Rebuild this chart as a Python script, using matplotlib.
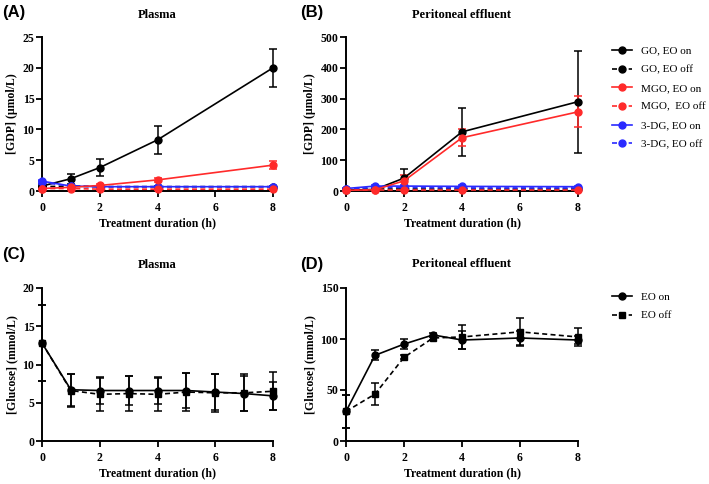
import matplotlib
matplotlib.use("Agg")
import matplotlib.pyplot as plt
from matplotlib.lines import Line2D

# ---------------- data ----------------
t_gdp = [0, 1, 2, 4, 8]
# Panel A: plasma GDP (umol/L)
a_go_on = [0.8, 2.0, 3.8, 8.3, 20.0]
a_go_on_err = [0.3, 0.8, 1.4, 2.3, 3.1]
a_go_off = [0.7, 0.8, 0.7, 0.7, 0.7]
a_go_off_err = [0.1, 0.1, 0.1, 0.1, 0.1]
a_mgo_on = [0.4, 0.6, 0.9, 1.8, 4.2]
a_mgo_on_err = [0.1, 0.2, 0.2, 0.3, 0.6]
a_mgo_off = [0.4, 0.4, 0.3, 0.3, 0.3]
a_mgo_off_err = [0.1, 0.1, 0.1, 0.1, 0.1]
a_dg_on = [1.6, 0.8, 0.7, 0.7, 0.7]
a_dg_on_err = [0.2, 0.1, 0.1, 0.1, 0.1]
a_dg_off = [1.4, 0.8, 0.7, 0.7, 0.7]
a_dg_off_err = [0.2, 0.1, 0.1, 0.1, 0.1]

# Panel B: peritoneal effluent GDP (umol/L)
b_go_on = [3, 5, 42, 192, 290]
b_go_on_err = [1, 2, 28, 77, 166]
b_go_off = [5, 5, 5, 5, 5]
b_go_off_err = [1, 1, 1, 1, 1]
b_mgo_on = [2, 4, 33, 173, 257]
b_mgo_on_err = [1, 2, 20, 27, 50]
b_mgo_off = [3, 3, 3, 3, 3]
b_mgo_off_err = [1, 1, 1, 1, 1]
b_dg_on = [8, 16, 16, 15, 14]
b_dg_on_err = [2, 3, 3, 3, 3]
b_dg_off = [6, 12, 12, 10, 10]
b_dg_off_err = [2, 2, 2, 2, 2]

gdp_labels = ["GO, EO on", "GO, EO off", "MGO, EO on", "MGO,  EO off",
              "3-DG, EO on", "3-DG, EO off"]

# Panel C: plasma glucose (mmol/L)
t_c = [0, 1, 2, 3, 4, 5, 6, 7, 8]
c_on = [12.8, 6.7, 6.6, 6.6, 6.6, 6.6, 6.4, 6.2, 5.9]
c_on_err = [5.0, 2.1, 1.8, 1.9, 1.8, 2.3, 2.3, 2.3, 1.8]
c_off = [12.8, 6.6, 6.1, 6.2, 6.1, 6.4, 6.3, 6.3, 6.5]
c_off_err = [5.0, 2.2, 2.2, 2.3, 2.2, 2.5, 2.5, 2.4, 2.5]

# Panel D: effluent glucose (mmol/L)
t_d = [0, 1, 2, 3, 4, 6, 8]
d_on = [29, 84, 95, 104, 99, 101, 99]
d_on_err = [16, 5, 5, 2, 9, 7, 4]
d_off = [29, 46, 82, 101, 102, 107, 102]
d_off_err = [16, 11, 2, 2, 12, 14, 9]

glc_labels = ["EO on", "EO off"]

# ---------------- style ----------------
W, H = 709, 484
fig = plt.figure(figsize=(W / 100, H / 100), dpi=100)
SERIF = ["Liberation Serif", "DejaVu Serif"]
SANS = ["Liberation Sans", "DejaVu Sans"]
RED = "#ff2a2a"
BLUE = "#2a2aff"
FS = 8.5
MS = 5


def px_axes(left, right, top, bottom):
    return fig.add_axes([left / W, 1 - bottom / H, (right - left) / W, (bottom - top) / H])


def style(ax, ymax, yticks, ylabel, xticks):
    ax.set_xlim(0, 8)
    ax.set_ylim(0, ymax)
    ax.set_xticks(xticks)
    ax.set_yticks(yticks)
    for s in ["top", "right"]:
        ax.spines[s].set_visible(False)
    for s in ["left", "bottom"]:
        ax.spines[s].set_linewidth(1.4)
    ax.tick_params(direction="out", length=4, width=1.3, labelsize=FS)
    ax.tick_params(axis="x", pad=4)
    ax.tick_params(axis="y", pad=1.5)
    for lab in ax.get_xticklabels() + ax.get_yticklabels():
        lab.set_family(SERIF)
        lab.set_fontweight("bold")
    ax.set_xlabel("Treatment duration (h)", family=SERIF, fontweight="bold",
                  fontsize=FS, labelpad=2.5)
    ax.set_ylabel(ylabel, family=SERIF, fontweight="bold", fontsize=FS, labelpad=3)


def series(ax, x, y, e, color, ls, marker, ms=MS):
    line = ax.errorbar(x, y, yerr=e, color=color, lw=1.2, marker=marker, ms=ms,
                       capsize=2.8, elinewidth=1.1, capthick=1.1, clip_on=False, zorder=3)
    if ls == "--":
        line[0].set_dashes((3, 2))
    for art in line[1] + line[2]:
        art.set_clip_on(False)
    return line


# Panel A
axA = px_axes(42, 273, 37, 191)
series(axA, t_gdp, a_go_on, a_go_on_err, "black", "-", "o")
series(axA, t_gdp, a_go_off, a_go_off_err, "black", "--", "o")
series(axA, t_gdp, a_dg_on, a_dg_on_err, BLUE, "-", "o")
series(axA, t_gdp, a_dg_off, a_dg_off_err, BLUE, "--", "o")
series(axA, t_gdp, a_mgo_on, a_mgo_on_err, RED, "-", "o")
series(axA, t_gdp, a_mgo_off, a_mgo_off_err, RED, "--", "o")
style(axA, 25, [0, 5, 10, 15, 20, 25], "[GDP] (\u03bcmol/L)", [0, 2, 4, 6, 8])

# Panel B
axB = px_axes(346, 578, 37, 191)
series(axB, t_gdp, b_go_on, b_go_on_err, "black", "-", "o")
series(axB, t_gdp, b_go_off, b_go_off_err, "black", "--", "o")
series(axB, t_gdp, b_dg_on, b_dg_on_err, BLUE, "-", "o")
series(axB, t_gdp, b_dg_off, b_dg_off_err, BLUE, "--", "o")
series(axB, t_gdp, b_mgo_on, b_mgo_on_err, RED, "-", "o")
series(axB, t_gdp, b_mgo_off, b_mgo_off_err, RED, "--", "o")
style(axB, 500, [0, 100, 200, 300, 400, 500], "[GDP] (\u03bcmol/L)", [0, 2, 4, 6, 8])

# Panel C
axC = px_axes(42, 273, 288, 441)
series(axC, t_c, c_on, c_on_err, "black", "-", "o")
series(axC, t_c, c_off, c_off_err, "black", "--", "s")
style(axC, 20, [0, 5, 10, 15, 20], "[Glucose] (mmol/L)", [0, 2, 4, 6, 8])

# Panel D
axD = px_axes(346, 578, 288, 441)
series(axD, t_d, d_on, d_on_err, "black", "-", "o")
series(axD, t_d, d_off, d_off_err, "black", "--", "s")
style(axD, 150, [0, 50, 100, 150], "[Glucose] (mmol/L)", [0, 2, 4, 6, 8])

# legends
def legend(labels, colors, styles, markers, top_px):
    handles = []
    for lab, c, s, m in zip(labels, colors, styles, markers):
        h = Line2D([0], [0], color=c, lw=1.2, marker=m, ms=MS)
        if s == "--":
            h.set_dashes((3, 2))
        handles.append(h)
    fig.legend(handles, labels, loc="upper left",
               bbox_to_anchor=(612 / W, 1 - top_px / H), frameon=False,
               prop={"family": SERIF, "size": 8}, handlelength=1.8,
               handletextpad=0.8, labelspacing=0.8, borderpad=0, borderaxespad=0)

legend(gdp_labels, ["black", "black", RED, RED, BLUE, BLUE],
       ["-", "--", "-", "--", "-", "--"], ["o"] * 6, 46)
legend(glc_labels, ["black", "black"], ["-", "--"], ["o", "s"], 292)

# titles and panel letters
def centered(x0, x1):
    return (x0 + x1) / 2 / W

for x0, x1, y, txt in [(42, 273, 15, "Plasma"), (346, 578, 15, "Peritoneal effluent"),
                        (42, 273, 265, "Plasma"), (346, 578, 264, "Peritoneal effluent")]:
    fig.text(centered(x0, x1), 1 - y / H, txt, ha="center", va="center",
             family=SERIF, fontweight="bold", fontsize=9)

for lab, x, y in [("(A)", 2, 13), ("(B)", 300, 13), ("(C)", 2, 255), ("(D)", 300, 264)]:
    fig.text(x / W, 1 - y / H, lab, ha="left", va="center", family=SANS,
             fontweight="bold", fontsize=12)

fig.savefig("out.png", dpi=100)
